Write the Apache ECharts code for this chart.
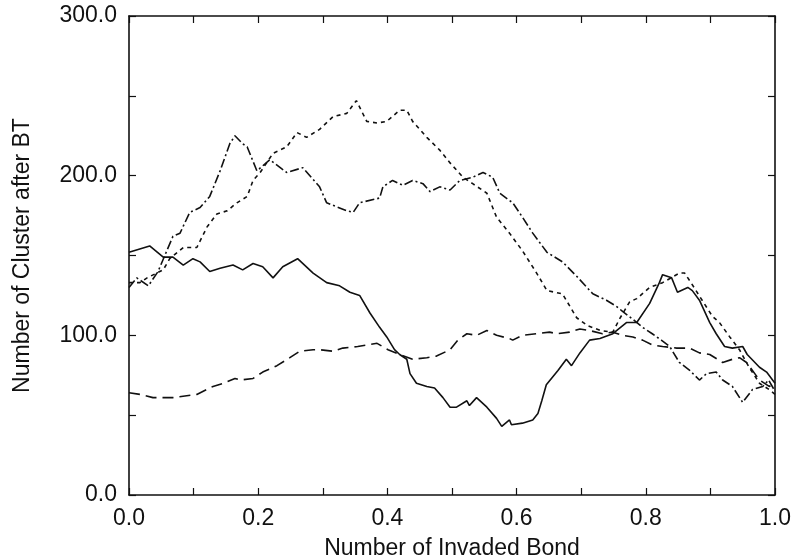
<!DOCTYPE html>
<html>
<head>
<meta charset="utf-8">
<script src="https://cdn.jsdelivr.net/npm/echarts@6/dist/echarts.min.js"></script>
<style>
html,body{margin:0;padding:0;background:#fff;}
#main{width:792px;height:560px;}
</style>
</head>
<body>
<div id="main"></div>
<script>
// Solid line
var solidX = [0, 0.032, 0.053, 0.068, 0.084, 0.099, 0.11, 0.125, 0.141, 0.161, 0.176, 0.192, 0.207, 0.223, 0.238, 0.261, 0.285, 0.306, 0.326, 0.342, 0.357, 0.373, 0.388, 0.399, 0.411, 0.419, 0.43, 0.435, 0.445, 0.461, 0.473, 0.486, 0.497, 0.507, 0.523, 0.527, 0.538, 0.554, 0.569, 0.577, 0.589, 0.592, 0.609, 0.625, 0.633, 0.639, 0.646, 0.664, 0.677, 0.685, 0.698, 0.713, 0.729, 0.749, 0.77, 0.786, 0.806, 0.821, 0.826, 0.84, 0.849, 0.865, 0.872, 0.883, 0.899, 0.909, 0.922, 0.934, 0.95, 0.957, 0.976, 0.987, 1.0];
var solidY = [152, 156, 149, 149, 144, 148, 146, 140, 142, 144, 141, 145, 143, 136, 143, 148, 139, 133, 131, 127, 125, 114, 105, 99, 91, 88, 85, 76, 70, 68, 67, 61, 55, 55, 59, 56, 61, 55, 48, 43, 47, 44, 45, 47, 51, 59, 69, 78, 85, 81, 89, 97, 98, 101, 108, 108, 120, 133, 138, 136, 127, 130, 128, 122, 108, 101, 93, 92, 93, 88, 80, 77, 70];

// Long-dashed line
var longDashX = [0, 0.017, 0.037, 0.068, 0.105, 0.13, 0.146, 0.164, 0.172, 0.192, 0.207, 0.229, 0.249, 0.264, 0.285, 0.295, 0.316, 0.331, 0.354, 0.384, 0.401, 0.419, 0.439, 0.461, 0.476, 0.497, 0.509, 0.523, 0.538, 0.554, 0.569, 0.589, 0.594, 0.609, 0.631, 0.651, 0.662, 0.682, 0.698, 0.713, 0.733, 0.749, 0.764, 0.78, 0.795, 0.81, 0.826, 0.848, 0.868, 0.883, 0.899, 0.919, 0.934, 0.945, 0.956, 0.976, 0.991, 1.0];
var longDashY = [64, 63, 61, 61, 63, 68, 70, 73, 72, 73, 77, 81, 86, 90, 91, 91, 90, 92, 93, 95, 91, 88, 85, 86, 87, 91, 97, 101, 100, 103, 100, 98, 97, 100, 101, 102, 101, 102, 104, 103, 101, 102, 100, 99, 97, 94, 93, 92, 92, 89, 88, 83, 85, 86, 83, 72, 68, 70];

// Short-dashed line (highest peak)
var dotX = [0, 0.017, 0.028, 0.053, 0.063, 0.084, 0.105, 0.121, 0.136, 0.152, 0.167, 0.183, 0.192, 0.203, 0.223, 0.244, 0.26, 0.275, 0.295, 0.316, 0.337, 0.352, 0.368, 0.384, 0.399, 0.419, 0.43, 0.439, 0.461, 0.481, 0.497, 0.517, 0.532, 0.554, 0.569, 0.589, 0.609, 0.631, 0.647, 0.671, 0.693, 0.71, 0.73, 0.749, 0.759, 0.775, 0.786, 0.806, 0.826, 0.852, 0.86, 0.87, 0.884, 0.903, 0.914, 0.93, 0.945, 0.96, 0.976, 0.991, 1.0];
var dotY = [133, 133, 136, 141, 148, 155, 155, 168, 176, 178, 183, 187, 197, 202, 214, 218, 227, 224, 229, 237, 239, 247, 234, 233, 234, 241, 241, 234, 224, 216, 208, 199, 195, 189, 174, 164, 153, 139, 128, 126, 111, 106, 103, 102, 110, 121, 123, 130, 133, 139, 139, 133, 124, 112, 108, 99, 91, 80, 70, 66, 63];

// Dash-dot line
var dashDotX = [0, 0.012, 0.03, 0.045, 0.068, 0.079, 0.094, 0.11, 0.125, 0.141, 0.156, 0.164, 0.176, 0.183, 0.198, 0.218, 0.244, 0.269, 0.295, 0.306, 0.337, 0.347, 0.357, 0.388, 0.393, 0.408, 0.424, 0.439, 0.455, 0.466, 0.481, 0.497, 0.512, 0.532, 0.548, 0.563, 0.574, 0.594, 0.609, 0.625, 0.647, 0.671, 0.693, 0.718, 0.739, 0.755, 0.764, 0.78, 0.795, 0.81, 0.824, 0.837, 0.852, 0.868, 0.883, 0.894, 0.909, 0.919, 0.934, 0.95, 0.965, 0.981, 0.99, 1.0];
var dashDotY = [130, 136, 131, 140, 162, 164, 177, 180, 187, 203, 220, 225, 220, 218, 203, 210, 202, 205, 193, 183, 178, 177, 183, 186, 193, 197, 194, 197, 195, 190, 193, 191, 197, 199, 202, 199, 189, 183, 174, 164, 152, 146, 137, 126, 122, 118, 115, 110, 105, 101, 97, 93, 83, 78, 72, 76, 77, 72, 68, 58, 66, 68, 72, 65];

var xTitle = 'Number of Invaded Bond';
var yTitle = 'Number of Cluster after BT';

function pairs(xs, ys) { return xs.map(function (x, i) { return [x, ys[i]]; }); }

var FONT = '"Liberation Sans", Arial, Helvetica, sans-serif';
var chart = echarts.init(document.getElementById('main'), null, {renderer: 'canvas'});

function mkSeries(name, xs, ys, dash) {
  return {
    name: name, type: 'line', data: pairs(xs, ys), showSymbol: false,
    symbol: 'none', animation: false,
    lineStyle: {color: '#111', width: 1.6, type: dash}
  };
}

var axisLineStyle = {onZero: false, lineStyle: {color: '#111', width: 1.6}};
var tickStyle = {inside: true, length: 7, lineStyle: {color: '#111', width: 1.2}};

chart.setOption({
  animation: false,
  backgroundColor: '#fff',
  grid: {left: 129, right: 17, top: 16, bottom: 65, containLabel: false, outerBoundsMode: 'none'},
  xAxis: [{
    type: 'value', min: 0, max: 1, interval: 0.1, position: 'bottom',
    name: xTitle, nameLocation: 'middle', nameGap: 42,
    nameTextStyle: {fontFamily: FONT, fontSize: 23, color: '#111'},
    axisLine: axisLineStyle,
    axisTick: tickStyle,
    axisLabel: {fontFamily: FONT, fontSize: 23, color: '#111', margin: 12,
      formatter: function (v) { return Math.round(v * 10) % 2 === 0 ? v.toFixed(1) : ''; }},
    splitLine: {show: false}
  }, {
    type: 'value', min: 0, max: 1, interval: 0.1, position: 'top',
    axisLine: axisLineStyle,
    axisTick: tickStyle,
    axisLabel: {show: false}, splitLine: {show: false}
  }],
  yAxis: [{
    type: 'value', min: 0, max: 300, interval: 50, position: 'left',
    name: yTitle, nameLocation: 'middle', nameGap: 95, nameRotate: 90,
    nameTextStyle: {fontFamily: FONT, fontSize: 23, color: '#111'},
    axisLine: axisLineStyle,
    axisTick: tickStyle,
    axisLabel: {fontFamily: FONT, fontSize: 23, color: '#111', margin: 12,
      formatter: function (v) { return Math.round(v) % 100 === 0 ? v.toFixed(1) : ''; }},
    splitLine: {show: false}
  }, {
    type: 'value', min: 0, max: 300, interval: 50, position: 'right',
    axisLine: axisLineStyle,
    axisTick: tickStyle,
    axisLabel: {show: false}, splitLine: {show: false}
  }],
  series: [
    mkSeries('solid', solidX, solidY, 'solid'),
    mkSeries('longdash', longDashX, longDashY, [11, 6]),
    mkSeries('dotted', dotX, dotY, [4, 4]),
    mkSeries('dashdot', dashDotX, dashDotY, [9, 3, 2, 3])
  ]
});
</script>
</body>
</html>
